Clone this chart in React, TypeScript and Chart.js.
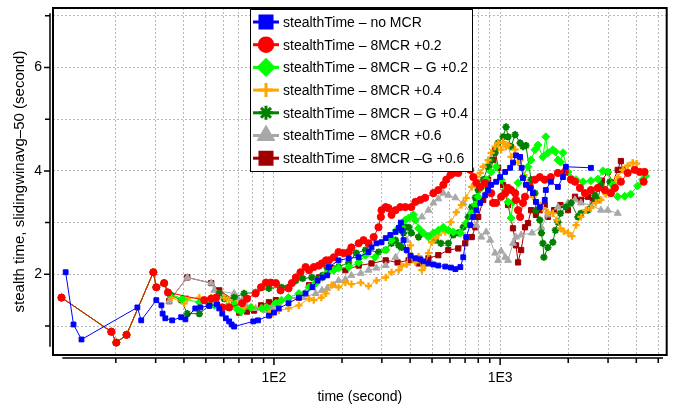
import React, { useEffect, useRef } from 'react';
import { Chart, registerables } from 'chart.js';
import { drawPoint } from 'chart.js/helpers';

Chart.register(...registerables);

const FONT = '"Liberation Sans", Arial, Helvetica, sans-serif';

// ---------- labels & ticks ----------
const seriesLabels = [
  'stealthTime – no MCR',
  'stealthTime – 8MCR +0.2',
  'stealthTime – 8MCR – G +0.2',
  'stealthTime – 8MCR +0.4',
  'stealthTime – 8MCR – G +0.4',
  'stealthTime – 8MCR +0.6',
  'stealthTime – 8MCR –G +0.6',
];
const xTitle = 'time (second)';
const yTitle = 'stealth time, slidingwinavg–50 (second)';
const xTickValues = [20, 30, 40, 50, 60, 70, 80, 90, 100, 200, 300, 400, 500, 600, 700, 800, 900, 1000, 2000, 3000, 4000, 5000];
const xTickLabels: Record<number, string> = { 100: '1E2', 1000: '1E3' };
const yTickValues = [1, 2, 3, 4, 5, 6, 7];
const yTickLabels: Record<number, string> = { 2: '2', 4: '4', 6: '6' };

// ---------- data: [time (s), stealth time (s)] ----------
const sharedStart: [number, number][] = [
  [11.5, 1.55], [19.1, 0.89], [20.1, 0.68], [22.3, 0.83], [29.3, 2.04], [30.2, 1.75], [32.7, 1.83],
];

const blueData: [number, number][] = [
  [12.0, 2.04], [13.0, 1.03], [14.1, 0.74], [24.9, 1.36], [25.9, 1.11], [30.2, 1.50], [31.8, 1.40], [32.2, 1.24],
  [33.1, 1.15], [35.5, 1.11], [38.9, 1.17], [40.6, 1.13], [44.9, 1.34], [47.3, 1.36], [51.8, 1.39], [56.0, 1.42],
  [57.3, 1.34], [59.1, 1.24], [61.3, 1.15], [63.4, 1.09], [65.0, 1.03], [66.7, 0.99], [81, 1.09], [85, 1.11],
  [95, 1.20], [100, 1.26], [105, 1.34], [116, 1.44], [129, 1.55], [138, 1.63], [148, 1.75], [156, 1.88],
  [164, 1.94], [172, 1.98], [175, 2.14], [193, 2.27], [214, 2.31], [237, 2.33], [262, 2.43], [270, 2.52],
  [284, 2.60], [299, 2.62], [312, 2.70], [327, 2.76], [345, 2.82], [356, 2.90], [364, 3.00], [367, 2.85],
  [374, 2.66], [386, 2.47], [402, 2.36], [422, 2.31], [444, 2.29], [458, 2.25], [482, 2.21], [507, 2.19],
  [533, 2.17], [572, 2.15], [606, 2.13], [634, 2.10], [667, 2.14], [687, 2.33], [708, 2.72], [737, 2.95],
  [761, 3.11], [785, 3.24], [817, 3.38], [859, 3.53], [885, 3.63], [913, 3.73], [960, 3.79], [1000, 3.88],
  [1053, 3.98], [1107, 4.06], [1140, 4.16], [1176, 4.30], [1226, 4.27], [1245, 4.06], [1262, 3.86], [1301, 3.73],
  [1356, 3.67], [1397, 3.57], [1440, 3.40], [1498, 3.30], [1575, 3.44], [1592, 3.63], [1675, 3.79], [1801, 3.69],
  [1895, 3.88], [1952, 4.08], [2520, 4.06],
];

const redData: [number, number][] = [
  [34.0, 1.65], [49.2, 1.50], [52.8, 1.53], [55.5, 1.55], [59.1, 1.36], [63.4, 1.36], [72.3, 1.44], [76, 1.53],
  [83, 1.63], [87.7, 1.75], [92.2, 1.84], [97, 1.84], [102, 1.83], [107, 1.69], [116, 1.73], [120, 1.83],
  [125, 1.94], [131, 2.04], [138, 2.14], [143, 2.08], [150, 2.14], [158, 2.17], [163, 2.21], [170, 2.27],
  [175, 2.27], [184, 2.33], [193, 2.43], [203, 2.41], [214, 2.43], [220, 2.52], [237, 2.60], [249, 2.66],
  [262, 2.60], [276, 2.72], [290, 2.91], [297, 3.11], [299, 3.24], [312, 3.30], [321, 3.28], [331, 3.15],
  [345, 3.24], [362, 3.30], [381, 3.30], [405, 3.30], [422, 3.40], [444, 3.44], [466, 3.48], [507, 3.57],
  [533, 3.63], [561, 3.73], [578, 3.83], [603, 3.92], [621, 3.96], [653, 3.96], [687, 4.06], [708, 4.12],
  [737, 4.02], [761, 3.88], [785, 3.77], [817, 3.69], [859, 3.77], [885, 3.73], [913, 3.57], [931, 3.38],
  [960, 3.38], [1010, 3.50], [1053, 3.57], [1084, 3.67], [1118, 3.63], [1165, 3.57], [1176, 3.44], [1200, 3.24],
  [1226, 3.11], [1262, 3.38], [1288, 3.50], [1356, 3.69], [1425, 3.83], [1498, 3.88], [1575, 3.83], [1675, 3.88],
  [1801, 3.96], [1933, 3.98], [2058, 3.83], [2143, 3.79], [2253, 3.67], [2371, 3.57], [2520, 3.63], [2704, 3.67],
  [2903, 3.63], [3088, 3.57], [3217, 3.67], [3418, 3.79], [3664, 3.96], [3934, 4.02], [4138, 3.98], [4350, 3.98],
  [4310, 3.79],
];

const limeData: [number, number][] = [
  [34.4, 1.62], [39.4, 1.53], [46.8, 1.46], [54.5, 1.40], [62, 1.38], [66.7, 1.42], [68.8, 1.32], [71.5, 1.28],
  [79.1, 1.36], [88.5, 1.34], [93, 1.36], [102, 1.44], [108, 1.50], [116, 1.55], [129, 1.63], [143, 1.75],
  [153, 1.83], [164, 1.94], [172, 2.02], [184, 2.08], [193, 2.12], [214, 2.14], [237, 2.23], [254, 2.37],
  [280, 2.33], [312, 2.47], [331, 2.66], [348, 2.85], [367, 2.91], [381, 3.05], [394, 3.09], [414, 3.15],
  [422, 3.05], [436, 2.89], [458, 2.80], [482, 2.72], [507, 2.80], [533, 2.85], [561, 2.91], [590, 2.85],
  [621, 2.82], [667, 2.80], [708, 2.99], [749, 3.18], [777, 3.34], [800, 3.50], [825, 3.67], [868, 3.83],
  [913, 3.98], [960, 4.08], [1010, 3.83], [1053, 3.63], [1084, 3.40], [1118, 3.09], [1140, 3.40], [1200, 3.77],
  [1262, 3.88], [1328, 4.08], [1370, 4.21], [1425, 4.41], [1469, 4.50], [1545, 4.27], [1592, 4.66], [1626, 4.35],
  [1710, 4.41], [1755, 4.37], [1801, 4.21], [1848, 4.17], [1895, 4.35], [1995, 3.98], [2058, 3.86], [2165, 3.83],
  [2323, 3.79], [2520, 3.81], [2704, 3.84], [2844, 4.00], [2992, 3.98], [3148, 3.73], [3311, 3.50], [3553, 3.51],
  [3773, 3.55], [4054, 3.71], [4265, 3.83], [4397, 3.90],
];

const orangeData: [number, number][] = [
  [35.3, 1.55], [40.1, 1.44], [41.4, 1.53], [46.8, 1.55], [52.8, 1.55], [60.3, 1.55], [63.4, 1.50], [68, 1.44],
  [73.8, 1.36], [80, 1.36], [87.7, 1.34], [95, 1.30], [98, 1.24], [105, 1.30], [116, 1.34], [129, 1.40],
  [143, 1.53], [150, 1.50], [162, 1.55], [170, 1.63], [180, 1.79], [193, 1.75], [207, 1.84], [220, 1.81],
  [242, 1.84], [262, 1.77], [284, 1.88], [312, 1.94], [331, 2.04], [356, 2.08], [367, 2.16], [386, 2.19],
  [394, 2.41], [402, 2.56], [410, 2.33], [422, 2.23], [436, 2.35], [451, 2.08], [466, 2.17], [482, 2.41],
  [498, 2.62], [518, 2.70], [533, 2.76], [572, 2.82], [606, 3.01], [640, 3.20], [674, 3.34], [708, 3.48],
  [749, 3.69], [785, 3.88], [817, 3.96], [842, 4.08], [885, 4.21], [913, 4.35], [950, 4.47], [980, 4.54],
  [1010, 4.41], [1031, 4.56], [1062, 4.47], [1084, 4.50], [1118, 4.27], [1165, 4.41], [1200, 4.16], [1226, 4.21],
  [1275, 3.92], [1328, 3.73], [1397, 3.50], [1469, 3.38], [1545, 3.28], [1626, 3.20], [1710, 3.18], [1778, 3.05],
  [1848, 2.89], [1914, 2.83], [1995, 2.80], [2078, 2.74], [2165, 2.95], [2276, 3.11], [2394, 3.24], [2520, 3.28],
  [2651, 3.38], [2790, 3.44], [2933, 3.55], [3088, 3.63], [3217, 3.77], [3311, 3.88], [3483, 4.02], [3664, 4.10],
  [3854, 4.16], [4013, 4.14],
];

const darkGreenData: [number, number][] = [
  [35.0, 1.60], [38.9, 1.50], [41.4, 1.24], [46.8, 1.24], [51.8, 1.40], [57.3, 1.63], [60.3, 1.53], [66.7, 1.55],
  [73.8, 1.63], [83, 1.65], [95, 1.73], [108, 1.75], [125, 1.88], [134, 1.92], [147, 1.94], [164, 1.98],
  [172, 2.12], [193, 2.14], [214, 2.23], [231, 2.41], [254, 2.47], [290, 2.43], [312, 2.47], [331, 2.60],
  [345, 2.66], [356, 2.56], [367, 2.52], [374, 2.80], [381, 2.91], [394, 2.91], [405, 2.80], [436, 2.72],
  [451, 2.80], [482, 2.74], [518, 2.66], [547, 2.60], [590, 2.60], [621, 2.76], [653, 2.80], [687, 2.91],
  [723, 3.11], [749, 3.30], [777, 3.48], [800, 3.63], [842, 3.83], [885, 4.08], [913, 4.21], [950, 4.35],
  [980, 4.54], [1031, 4.66], [1062, 4.85], [1084, 4.66], [1118, 4.47], [1165, 4.70], [1226, 4.54], [1262, 4.47],
  [1301, 4.49], [1370, 3.83], [1425, 3.57], [1440, 3.24], [1498, 3.05], [1522, 2.80], [1545, 2.60], [1561, 2.33],
  [1626, 2.52], [1710, 2.62], [1755, 2.85], [1801, 3.01], [1848, 3.18], [1952, 3.30], [2058, 3.38], [2208, 3.11],
  [2276, 3.18], [2443, 3.24], [2622, 3.53], [2704, 3.44], [2790, 3.73], [2903, 3.63], [3058, 3.79],
];

const grayData: [number, number][] = [
  [34.4, 1.48], [41.4, 1.94], [52.8, 1.83], [54.5, 1.69], [66.7, 1.63], [68.8, 1.55], [72.3, 1.50], [75.3, 1.40],
  [83, 1.34], [92.2, 1.30], [98, 1.36], [105, 1.44], [116, 1.53], [134, 1.55], [153, 1.63], [163, 1.69],
  [172, 1.73], [184, 1.79], [193, 1.88], [207, 1.90], [220, 1.98], [242, 2.02], [262, 2.08], [284, 2.12],
  [312, 2.17], [345, 2.33], [367, 2.52], [386, 2.66], [402, 2.85], [422, 3.05], [451, 3.11], [482, 3.24],
  [507, 3.38], [533, 3.46], [561, 3.57], [590, 3.53], [634, 3.48], [687, 3.38], [737, 3.20], [785, 2.95],
  [825, 2.72], [868, 2.82], [904, 2.66], [950, 2.41], [980, 2.27], [1010, 2.45], [1053, 2.33], [1084, 2.27],
  [1140, 2.60], [1176, 2.72], [1238, 2.76], [1384, 2.80], [1522, 2.91], [1626, 3.15], [1801, 3.30], [1995, 3.38],
  [2143, 3.44], [2276, 3.38], [2520, 3.34], [2790, 3.24], [2992, 3.24], [3311, 3.18],
];

const darkRedData: [number, number][] = [
  [34.4, 1.48], [41.4, 1.94], [52.8, 1.83], [57.3, 1.69], [66.7, 1.50], [70.2, 1.26], [76, 1.28], [81.7, 1.30],
  [87.7, 1.40], [95, 1.46], [102, 1.50], [116, 1.53], [129, 1.55], [143, 1.79], [158, 1.94], [180, 2.12],
  [207, 2.08], [237, 2.17], [270, 2.21], [312, 2.27], [352, 2.23], [394, 2.27], [436, 2.21], [482, 2.31],
  [533, 2.37], [590, 2.47], [653, 2.50], [701, 2.60], [749, 2.72], [777, 2.91], [800, 3.11], [842, 3.44],
  [885, 3.83], [931, 4.21], [950, 4.41], [980, 4.06], [1031, 3.73], [1084, 3.34], [1140, 2.89], [1176, 2.56],
  [1200, 2.23], [1238, 2.47], [1288, 2.91], [1328, 2.99], [1370, 3.24], [1440, 3.15], [1498, 3.24], [1575, 3.34],
  [1626, 3.11], [1733, 3.24], [1848, 3.34], [1995, 3.24], [2143, 3.50], [2276, 3.44], [2443, 3.50], [2570, 3.44],
  [2817, 3.81], [2992, 3.98], [3148, 3.77], [3311, 4.02], [3418, 4.19], [3483, 4.02],
];

const seriesData: [number, number][][] = [
  blueData,
  [...sharedStart, ...redData],
  [...sharedStart, ...limeData],
  [...sharedStart, ...orangeData],
  [...sharedStart, ...darkGreenData],
  [...sharedStart, ...grayData],
  [...sharedStart, ...darkRedData],
];

// ---------- styles ----------
const seriesColors = ['#0000ff', '#ff0000', '#00ff00', '#ffa500', '#008000', '#a8a8a8', '#a00000'];
const seriesPointStyles = ['rect', 'circle', 'rectRot', 'cross', 'star', 'triangle', 'rect'];
const seriesPointRadius = [3.4, 3.6, 4.0, 3.6, 3.6, 4.0, 3.7];
const seriesPointBorder = [1, 1, 1, 2.3, 2, 1, 1];
const legendPointRadius = [8.5, 6.8, 7.5, 7, 7, 8, 8.5];
const legendPointBorder = [1, 1, 1, 3.5, 3, 1, 1];

const decorPlugin = {
  id: 'decor',
  afterDraw(chart: any) {
    const { ctx, chartArea, scales } = chart;
    const { left, top, right, bottom } = chartArea;
    const xs = scales.x;
    const ys = scales.y;
    ctx.save();

    // legend box
    const lx = 250, ly = 9, lw = 222, lh = 162;
    ctx.fillStyle = '#ffffff';
    ctx.fillRect(lx, ly, lw, lh);
    ctx.strokeStyle = '#000';
    ctx.lineWidth = 1;
    ctx.strokeRect(lx + 0.5, ly + 0.5, lw, lh);
    seriesLabels.forEach((label, i) => {
      const cy = 22 + i * 22.7;
      const c = seriesColors[i];
      ctx.strokeStyle = c;
      ctx.lineWidth = 3;
      ctx.beginPath();
      ctx.moveTo(253, cy);
      ctx.lineTo(279, cy);
      ctx.stroke();
      ctx.fillStyle = c;
      ctx.strokeStyle = c;
      drawPoint(ctx, {
        pointStyle: seriesPointStyles[i] as any,
        rotation: 0,
        radius: legendPointRadius[i],
        borderWidth: legendPointBorder[i],
      }, 266, cy);
      ctx.fillStyle = '#000';
      ctx.font = `14px ${FONT}`;
      ctx.textAlign = 'left';
      ctx.textBaseline = 'middle';
      ctx.fillText(label, 283, cy + 1);
    });

    // frame
    ctx.strokeStyle = '#000';
    ctx.lineWidth = 2;
    ctx.strokeRect(left, top, right - left, bottom - top);

    // offset y axis
    const ax = left - 3;
    ctx.lineWidth = 1.5;
    ctx.beginPath();
    ctx.moveTo(ax, ys.getPixelForValue(7.05));
    ctx.lineTo(ax, ys.getPixelForValue(0.6));
    yTickValues.forEach((v) => {
      const py = ys.getPixelForValue(v);
      const len = yTickLabels[v] ? 6 : 5;
      ctx.moveTo(ax, py);
      ctx.lineTo(ax - len, py);
    });
    ctx.stroke();

    // offset x axis
    const ay = bottom + 3;
    ctx.beginPath();
    ctx.moveTo(xs.getPixelForValue(11.6), ay);
    ctx.lineTo(xs.getPixelForValue(5250), ay);
    xTickValues.forEach((v) => {
      const px = xs.getPixelForValue(v);
      const len = xTickLabels[v] ? 7 : 5;
      ctx.moveTo(px, ay);
      ctx.lineTo(px, ay + len);
    });
    ctx.stroke();
    ctx.restore();
  },
};

export default function App() {
  const canvasRef = useRef<HTMLCanvasElement | null>(null);

  useEffect(() => {
    const canvas = canvasRef.current;
    if (!canvas) return;
    const chart = new Chart(canvas, {
      type: 'scatter',
      data: {
        datasets: seriesLabels.map((label, i) => ({
          label,
          data: seriesData[i].map(([t, v]) => ({ x: t, y: v })),
          showLine: true,
          borderColor: seriesColors[i],
          backgroundColor: seriesColors[i],
          borderWidth: 1,
          pointStyle: seriesPointStyles[i] as any,
          pointRadius: seriesPointRadius[i],
          pointBorderWidth: seriesPointBorder[i],
          pointBackgroundColor: seriesColors[i],
          pointBorderColor: seriesColors[i],
          tension: 0,
        })),
      },
      options: {
        responsive: false,
        animation: false,
        devicePixelRatio: 1,
        events: [],
        layout: { padding: { left: 0, top: 8, right: 5, bottom: 0 } },
        plugins: {
          legend: { display: false },
          tooltip: { enabled: false },
        },
        scales: {
          x: {
            type: 'logarithmic',
            min: 10.55,
            max: 5450,
            bounds: 'data',
            afterBuildTicks: (s: any) => {
              s.ticks = xTickValues.map((v) => ({ value: v }));
            },
            afterFit: (s: any) => {
              s.height = 49;
              s.paddingLeft = 0;
              s.paddingRight = 0;
            },
            ticks: {
              autoSkip: false,
              maxRotation: 0,
              padding: 15,
              color: '#000',
              font: { family: FONT, size: 14 },
              callback: (v: any) => xTickLabels[Number(v)] ?? '',
            },
            grid: { color: '#b8b8b8', lineWidth: 1, drawTicks: false },
            border: { display: false, dash: [2, 2] },
            title: {
              display: true,
              text: xTitle,
              color: '#000',
              font: { family: FONT, size: 14, lineHeight: 1 },
              padding: 0,
            },
          },
          y: {
            type: 'linear',
            min: 0.44,
            max: 7.15,
            bounds: 'data',
            afterBuildTicks: (s: any) => {
              s.ticks = yTickValues.map((v) => ({ value: v }));
            },
            afterFit: (s: any) => {
              s.width = 53;
              s.paddingTop = 0;
              s.paddingBottom = 0;
            },
            ticks: {
              autoSkip: false,
              padding: 11,
              color: '#000',
              font: { family: FONT, size: 14 },
              callback: (v: any) => yTickLabels[Number(v)] ?? '',
            },
            grid: { color: '#b8b8b8', lineWidth: 1, drawTicks: false },
            border: { display: false, dash: [2, 2] },
            title: {
              display: true,
              text: yTitle,
              color: '#000',
              font: { family: FONT, size: 15, lineHeight: 1.2 },
              padding: { top: 11, bottom: 0 },
            },
          },
        },
      },
      plugins: [decorPlugin],
    });
    return () => chart.destroy();
  }, []);

  return (
    <div style={{ position: 'fixed', left: 0, top: 0, width: 673, height: 404, background: '#fff' }}>
      <canvas ref={canvasRef} width={673} height={404} style={{ display: 'block' }} />
    </div>
  );
}
